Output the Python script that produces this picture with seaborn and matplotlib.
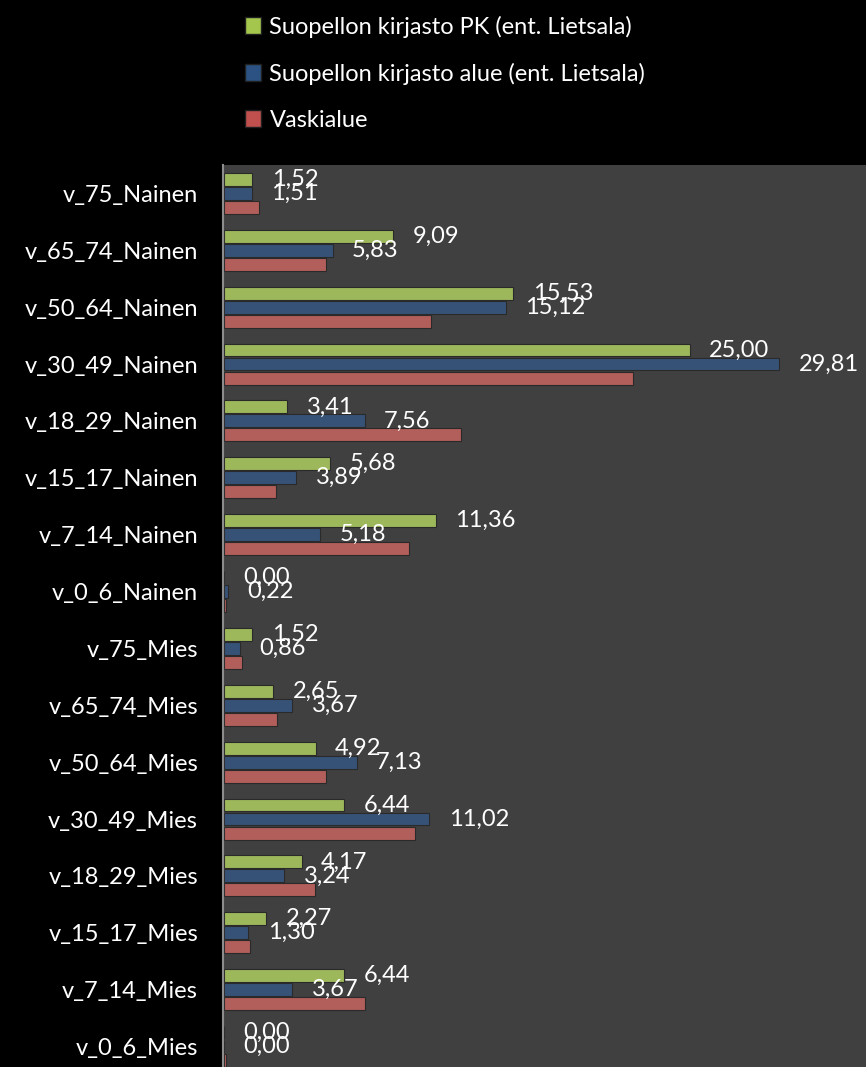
from matplotlib import pyplot as plt
from matplotlib.patches import Patch
import numpy as np
import seaborn as sns
import pandas as pd

ryhmat = ['v_75_Nainen', 'v_65_74_Nainen', 'v_50_64_Nainen', 'v_30_49_Nainen',
          'v_18_29_Nainen', 'v_15_17_Nainen', 'v_7_14_Nainen', 'v_0_6_Nainen',
          'v_75_Mies', 'v_65_74_Mies', 'v_50_64_Mies', 'v_30_49_Mies',
          'v_18_29_Mies', 'v_15_17_Mies', 'v_7_14_Mies', 'v_0_6_Mies']
sarjat = ['Suopellon kirjasto PK (ent. Lietsala)',
          'Suopellon kirjasto alue (ent. Lietsala)',
          'Vaskialue']
pk = [1.52, 9.09, 15.53, 25.00, 3.41, 5.68, 11.36, 0.00,
      1.52, 2.65, 4.92, 6.44, 4.17, 2.27, 6.44, 0.00]
alue = [1.51, 5.83, 15.12, 29.81, 7.56, 3.89, 5.18, 0.22,
        0.86, 3.67, 7.13, 11.02, 3.24, 1.30, 3.67, 0.00]
vaski = [1.88, 5.47, 11.11, 21.95, 12.72, 2.79, 9.93, 0.10,
         0.97, 2.84, 5.47, 10.25, 4.88, 1.40, 7.57, 0.10]
varit = ['#a4c64c', '#2b5282', '#c0504d']

rows = []
for s, arvot in zip(sarjat, [pk, alue, vaski]):
    for r, v in zip(ryhmat, arvot):
        rows.append({'ryhma': r, 'osuus': v, 'sarja': s})
df = pd.DataFrame(rows)

sns.set_style('dark')
plt.rcParams['font.family'] = ['Lato', 'DejaVu Sans']

fig = plt.figure(figsize=(8.66, 10.67), dpi=100, facecolor='black')
ax = fig.add_axes([0.2575, 0.0, 0.7425, 0.8454])
ax.set_facecolor('#404040')

sns.barplot(data=df, y='ryhma', x='osuus', hue='sarja', orient='h',
            hue_order=sarjat, order=ryhmat, palette=varit, width=0.74,
            gap=0.08, legend=False, ax=ax, edgecolor='#2a2a2a', linewidth=0.8)

for cont, arvot in zip(ax.containers[:2], [pk, alue]):
    ax.bar_label(cont, labels=[f'{v:.2f}'.replace('.', ',') for v in arvot],
                 padding=14, color='white', fontsize=17)

ax.set_xlim(-0.05, 34.46)
ax.set_ylim(15.36, -0.5)
ax.set_xlabel('')
ax.set_ylabel('')
ax.set_xticks([])
ax.tick_params(axis='y', colors='white', labelsize=17, length=0, pad=18)
for sp in ['top', 'right', 'bottom']:
    ax.spines[sp].set_visible(False)
ax.spines['left'].set_color('#8c8c8c')
ax.spines['left'].set_linewidth(1.5)

handles = [Patch(facecolor=c, edgecolor='#202020') for c in varit]
leg = fig.legend(handles, sarjat, loc='upper left', bbox_to_anchor=(0.258, 1.005),
                 frameon=False, fontsize=17, labelcolor='white',
                 handlelength=0.7, handleheight=0.7, handletextpad=0.35,
                 labelspacing=1.05)

fig.savefig('out.png', dpi=100, facecolor='black')
